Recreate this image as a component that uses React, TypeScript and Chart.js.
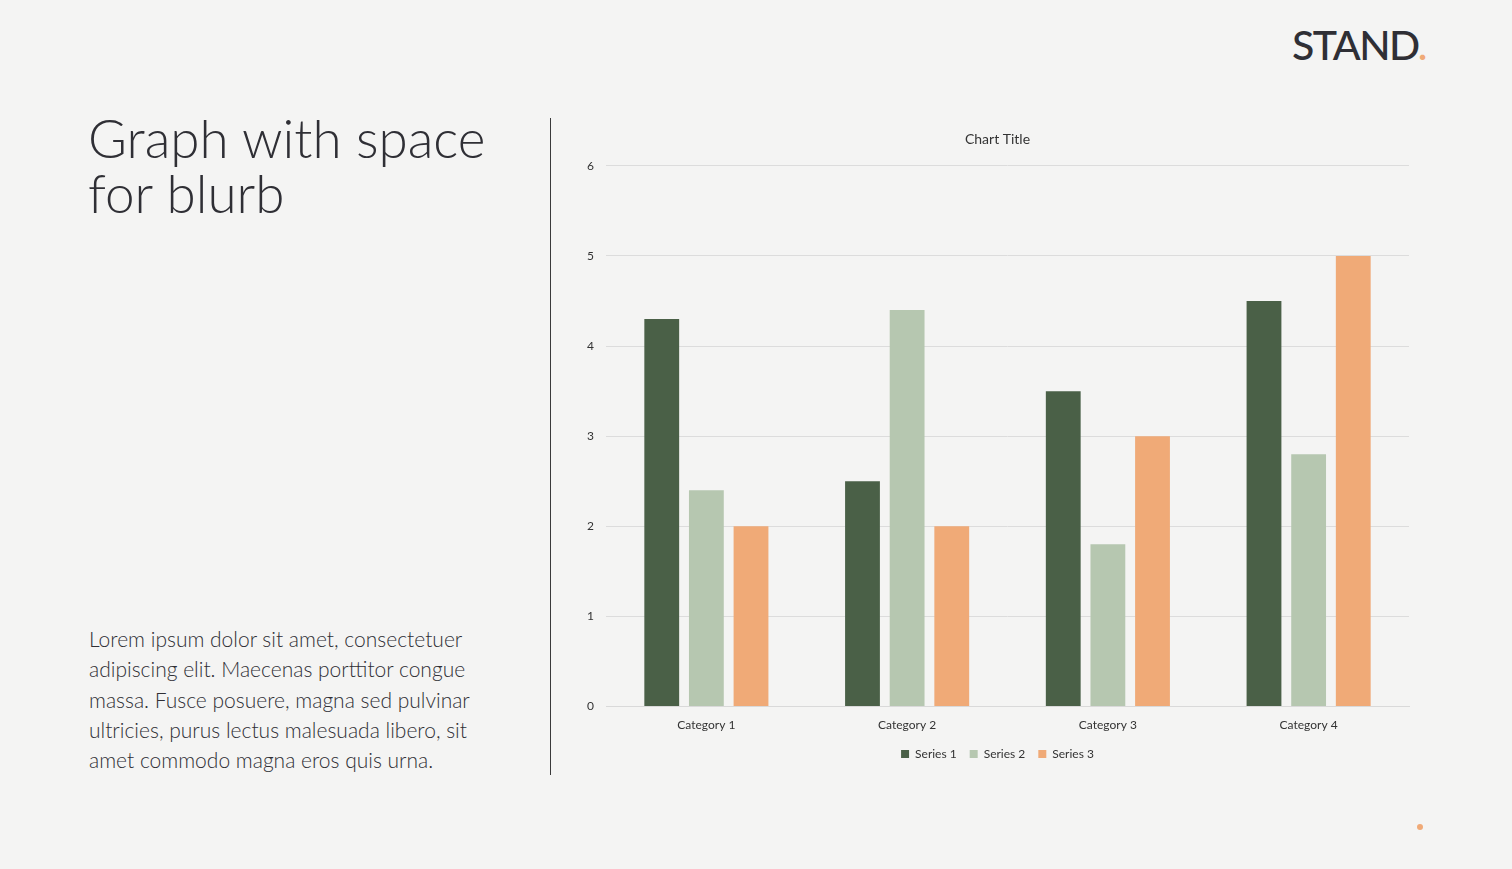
import React, { useEffect, useRef } from "react";
import { Chart, registerables } from "chart.js";

Chart.register(...registerables);

const categories = ["Category 1", "Category 2", "Category 3", "Category 4"];
const series1 = [4.3, 2.5, 3.5, 4.5];
const series2 = [2.4, 4.4, 1.8, 2.8];
const series3 = [2, 2, 3, 5];
const seriesNames = ["Series 1", "Series 2", "Series 3"];
const seriesColors = ["#4a6047", "#b6c7b0", "#f0aa77"];

const FONT = "Lato, 'Noto Sans', sans-serif";

export default function App() {
  const ref = useRef<HTMLCanvasElement | null>(null);

  useEffect(() => {
    document.body.style.margin = "0";
    if (!ref.current) return;
    const chart = new Chart(ref.current, {
      type: "bar",
      data: {
        labels: categories,
        datasets: [series1, series2, series3].map((d, i) => ({
          label: seriesNames[i],
          data: d,
          backgroundColor: seriesColors[i],
          borderWidth: 0,
          categoryPercentage: 0.667,
          barPercentage: 0.78,
        })),
      },
      options: {
        responsive: false,
        animation: false,
        maintainAspectRatio: false,
        layout: { padding: { left: 0, right: 11, top: 0, bottom: 5 } },
        plugins: {
          title: {
            display: true,
            text: "Chart Title",
            color: "#333",
            font: { family: FONT, size: 14, weight: "normal" as any },
            padding: { top: 6, bottom: 18 },
          },
          legend: {
            position: "bottom",
            labels: {
              boxWidth: 8,
              boxHeight: 8,
              color: "#333",
              padding: 13,
              font: { family: FONT, size: 12 },
            },
          },
          tooltip: { enabled: false },
        },
        scales: {
          x: {
            grid: { display: false },
            border: { color: "#d9d9d9" },
            ticks: { color: "#333", font: { family: FONT, size: 12 }, padding: 3 },
          },
          y: {
            min: 0,
            max: 6,
            grid: { color: "#dcdcdc", drawTicks: false },
            border: { display: false },
            ticks: {
              stepSize: 1,
              color: "#333",
              font: { family: FONT, size: 12 },
              padding: 12,
            },
            afterFit: (s: any) => {
              s.width = 20;
            },
          },
        },
      },
    });
    return () => chart.destroy();
  }, []);

  return (
    <div
      style={{
        position: "fixed",
        left: 0,
        top: 0,
        width: 1512,
        height: 869,
        background: "#f4f4f3",
        overflow: "hidden",
        fontFamily: FONT,
      }}
    >
      <div
        style={{
          position: "absolute",
          left: 1292,
          top: 20,
          fontSize: 41,
          fontWeight: 500,
          color: "#2f2f35",
          letterSpacing: -1.5,
        }}
      >
        STAND<span style={{ color: "#f0aa77" }}>.</span>
      </div>
      <div
        style={{
          position: "absolute",
          left: 88,
          top: 110,
          fontSize: 53,
          lineHeight: "55px",
          fontWeight: 300,
          color: "#2f2f35",
          whiteSpace: "nowrap",
        }}
      >
        Graph with space
        <br />
        for blurb
      </div>
      <div
        style={{
          position: "absolute",
          left: 89,
          top: 624,
          fontSize: 21,
          lineHeight: "30.3px",
          fontWeight: 300,
          color: "#2f2f35",
          whiteSpace: "nowrap",
        }}
      >
        Lorem ipsum dolor sit amet, consectetuer
        <br />
        adipiscing elit. Maecenas porttitor congue
        <br />
        massa. Fusce posuere, magna sed pulvinar
        <br />
        ultricies, purus lectus malesuada libero, sit
        <br />
        amet commodo magna eros quis urna.
      </div>
      <div
        style={{
          position: "absolute",
          left: 550,
          top: 118,
          width: 1,
          height: 657,
          background: "#3a3a3a",
        }}
      />
      <div
        style={{
          position: "absolute",
          left: 1417,
          top: 824,
          width: 6,
          height: 6,
          borderRadius: 3,
          background: "#f0aa77",
        }}
      />
      <canvas
        ref={ref}
        width={834}
        height={650}
        style={{ position: "absolute", left: 586, top: 125, width: 834, height: 650 }}
      />
    </div>
  );
}
